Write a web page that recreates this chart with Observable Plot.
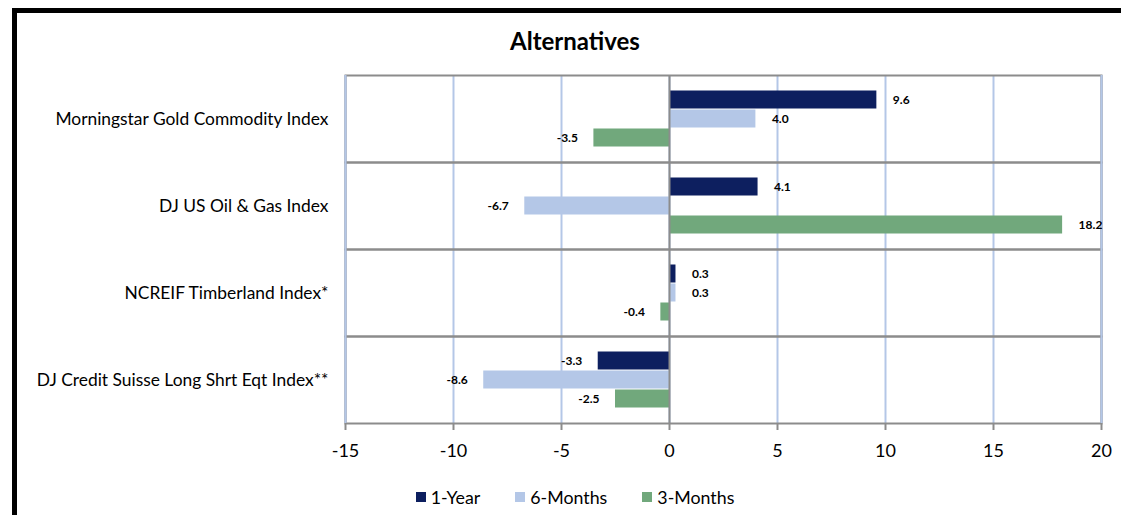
<!DOCTYPE html>
<html><head><meta charset="utf-8">
<script src="https://cdn.jsdelivr.net/npm/d3@7"></script>
<script src="https://cdn.jsdelivr.net/npm/@observablehq/plot@0.6"></script>
<style>
html,body{margin:0;padding:0;background:#fff;overflow:hidden;width:1121px;height:515px;position:relative;}
#box{position:absolute;left:12px;top:8px;width:1200px;height:600px;border-left:5px solid #000;border-top:5px solid #000;}
#title{position:absolute;left:17px;width:1116px;top:26px;text-align:center;font-family:Lato,sans-serif;font-weight:bold;font-size:24px;color:#000;}
#chart{position:absolute;left:0;top:0;}
#legend{position:absolute;left:17px;width:1116px;top:486px;display:flex;justify-content:center;align-items:center;font-family:Lato,sans-serif;font-size:17.8px;color:#000;}
#legend .item{display:flex;align-items:center;margin:0 17.5px;}
#legend .sw{width:10px;height:10px;margin-right:5px;}
</style>
</head><body>
<div id="box"></div>
<div id="title">Alternatives</div>
<div id="chart"></div>
<div id="legend"></div>
<script>
const categories = ["Morningstar Gold Commodity Index","DJ US Oil & Gas Index","NCREIF Timberland Index*","DJ Credit Suisse Long Shrt Eqt Index**"];
const series = ["1-Year","6-Months","3-Months"];
const oneYear = [9.6, 4.1, 0.3, -3.3];
const sixMonths = [4.0, -6.7, 0.3, -8.6];
const threeMonths = [-3.5, 18.2, -0.4, -2.5];
const xTicks = [-15,-10,-5,0,5,10,15,20];
const colors = ["#0d1f5f","#b4c7e7","#71a87c"];

const seriesValues = [oneYear, sixMonths, threeMonths];
const data = [];
categories.forEach((c, i) => {
  series.forEach((s, j) => data.push({category: c, series: s, value: seriesValues[j][i]}));
});
const fmt = v => (v < 0 ? "-" : "") + Math.abs(v).toFixed(1);
const gridBlue = "#b4c7e7";
const gray = "#8c8c8c";

const chart = Plot.plot({
  width: 1121, height: 470,
  marginLeft: 345, marginRight: 20, marginTop: 74, marginBottom: 47,
  style: {fontFamily: "Lato, sans-serif", background: "transparent", color: "#000"},
  x: {domain: [-15, 20], label: null},
  fy: {domain: categories, padding: 0, label: null},
  y: {domain: series, paddingInner: 0, paddingOuter: 0.74, axis: null, label: null},
  color: {domain: series, range: colors},
  marks: [
    Plot.ruleX(xTicks, {stroke: gridBlue, strokeWidth: 2}),
    Plot.frame({stroke: gray, strokeWidth: 2}),
    Plot.ruleX([xTicks[0], xTicks[xTicks.length - 1]], {stroke: gridBlue, strokeWidth: 2}),
    Plot.barX(data, {x: "value", y: "series", fy: "category", fill: "series", insetTop: 0.5, insetBottom: 0.5}),
    Plot.ruleX([0], {stroke: gray, strokeWidth: 2}),
    Plot.text(data, {filter: d => d.value >= 0, x: "value", y: "series", fy: "category", text: d => fmt(d.value), textAnchor: "start", dx: 16, fontWeight: "bold", fontSize: 12, fill: "#000"}),
    Plot.text(data, {filter: d => d.value < 0, x: "value", y: "series", fy: "category", text: d => fmt(d.value), textAnchor: "end", dx: -16, fontWeight: "bold", fontSize: 12, fill: "#000"}),
    Plot.axisX({ticks: xTicks, tickFormat: d => String(d), tickSize: 7, tickPadding: 14, stroke: gray, strokeWidth: 2, fill: "#000", fontSize: 18, label: null, anchor: "bottom"}),
    Plot.axisFy({anchor: "left", tickSize: 0, tickPadding: 17, fontSize: 17.4, fill: "#000", label: null})
  ]
});
document.getElementById("chart").appendChild(chart);

const legend = document.getElementById("legend");
series.forEach((s, i) => {
  const item = document.createElement("div");
  item.className = "item";
  const sw = document.createElement("span");
  sw.className = "sw";
  sw.style.background = colors[i];
  const t = document.createElement("span");
  t.textContent = s;
  item.appendChild(sw); item.appendChild(t);
  legend.appendChild(item);
});
</script>
</body></html>
